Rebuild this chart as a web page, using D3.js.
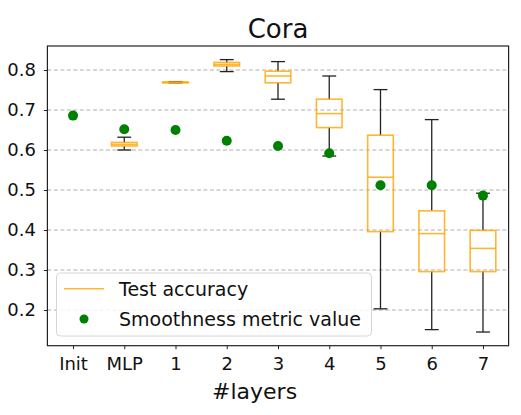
<!DOCTYPE html>
<html>
<head>
<meta charset="utf-8">
<script src="https://cdn.jsdelivr.net/npm/d3@7"></script>
<style>
  body { margin: 0; background: #fff; }
  svg { font-family: 'DejaVu Sans', sans-serif; }
</style>
</head>
<body>
<svg id="chart"></svg>
<script>
// Data
const categories = ['Init', 'MLP', '1', '2', '3', '4', '5', '6', '7']
const whiskerLow = [null, 0.600, 0.768, 0.796, 0.727, 0.585, 0.203, 0.151, 0.145]
const q1 = [null, 0.610, 0.768, 0.810, 0.768, 0.656, 0.396, 0.296, 0.296]
const median = [null, 0.614, 0.769, 0.814, 0.785, 0.691, 0.532, 0.391, 0.354]
const q3 = [null, 0.619, 0.770, 0.819, 0.797, 0.727, 0.637, 0.448, 0.399]
const whiskerHigh = [null, 0.632, 0.771, 0.826, 0.821, 0.785, 0.751, 0.676, 0.492]
const smoothness = [0.686, 0.652, 0.650, 0.623, 0.610, 0.592, 0.512, 0.512, 0.486]
const yTicks = [0.2, 0.3, 0.4, 0.5, 0.6, 0.7, 0.8]

const W = 521
const H = 415
const margin = { top: 46, right: 12.4, bottom: 69.3, left: 47.4 }
const width = W - margin.left - margin.right
const height = H - margin.top - margin.bottom

const orange = '#ffa500'
const green = '#008000'

const svg = d3.select('#chart')
  .attr('width', W)
  .attr('height', H)

const g = svg.append('g')
  .attr('transform', `translate(${margin.left}, ${margin.top})`)

// Scales: positions 1..9 like a boxplot, x range 0.5..9.5
const xScale = d3.scaleLinear()
  .domain([0.5, categories.length + 0.5])
  .range([0, width])
const pos = i => xScale(i + 1)
const unit = xScale(1) - xScale(0)

const yScale = d3.scaleLinear()
  .domain([0.1108, 0.86])
  .range([height, 0])

// Grid
g.append('g')
  .selectAll('line')
  .data(yTicks)
  .enter()
  .append('line')
  .attr('x1', 0)
  .attr('x2', width)
  .attr('y1', d => yScale(d))
  .attr('y2', d => yScale(d))
  .attr('stroke', '#b0b0b0')
  .attr('stroke-width', 1)
  .attr('stroke-dasharray', '4,2.5')

// Axes
const yAxis = d3.axisLeft(yScale)
  .tickValues(yTicks)
  .tickFormat(d3.format('.1f'))
  .tickSize(3.5)
  .tickPadding(8)
const xAxis = d3.axisBottom(xScale)
  .tickValues(categories.map((_, i) => i + 1))
  .tickFormat((_, i) => categories[i])
  .tickSize(3.5)
  .tickPadding(8)

const yG = g.append('g').call(yAxis)
const xG = g.append('g').attr('transform', `translate(0, ${height})`).call(xAxis)
;[yG, xG].forEach(a => {
  a.select('.domain').remove()
  a.selectAll('line').attr('stroke', '#222').attr('stroke-width', 1)
  a.selectAll('text').attr('fill', '#111').style('font-size', '18px')
    .style('font-family', "'DejaVu Sans', sans-serif")
})

// Boxes
const idx = d3.range(categories.length).filter(i => q1[i] !== null)
const boxW = unit * 0.5
const capW = unit * 0.27

const boxes = g.append('g')
// whiskers
boxes.selectAll('.whisker')
  .data(idx.flatMap(i => [[i, whiskerLow[i], q1[i]], [i, q3[i], whiskerHigh[i]]]))
  .enter()
  .append('line')
  .attr('x1', d => pos(d[0]))
  .attr('x2', d => pos(d[0]))
  .attr('y1', d => yScale(d[1]))
  .attr('y2', d => yScale(d[2]))
  .attr('stroke', '#222')
  .attr('stroke-width', 1.3)
// caps
boxes.selectAll('.cap')
  .data(idx.flatMap(i => [[i, whiskerLow[i]], [i, whiskerHigh[i]]]))
  .enter()
  .append('line')
  .attr('x1', d => pos(d[0]) - capW / 2)
  .attr('x2', d => pos(d[0]) + capW / 2)
  .attr('y1', d => yScale(d[1]))
  .attr('y2', d => yScale(d[1]))
  .attr('stroke', '#222')
  .attr('stroke-width', 1.3)
// box
boxes.selectAll('.box')
  .data(idx)
  .enter()
  .append('rect')
  .attr('x', i => pos(i) - boxW / 2)
  .attr('y', i => yScale(q3[i]))
  .attr('width', boxW)
  .attr('height', i => yScale(q1[i]) - yScale(q3[i]))
  .attr('fill', 'none')
  .attr('stroke', orange)
  .attr('stroke-opacity', 0.8)
  .attr('stroke-width', 1.6)
// median
boxes.selectAll('.median')
  .data(idx)
  .enter()
  .append('line')
  .attr('x1', i => pos(i) - boxW / 2)
  .attr('x2', i => pos(i) + boxW / 2)
  .attr('y1', i => yScale(median[i]))
  .attr('y2', i => yScale(median[i]))
  .attr('stroke', orange)
  .attr('stroke-opacity', 0.8)
  .attr('stroke-width', 1.6)

// Smoothness dots
g.append('g')
  .selectAll('circle')
  .data(smoothness)
  .enter()
  .append('circle')
  .attr('cx', (_, i) => pos(i))
  .attr('cy', d => yScale(d))
  .attr('r', 5)
  .attr('fill', green)

// Frame
g.append('rect')
  .attr('width', width)
  .attr('height', height)
  .attr('fill', 'none')
  .attr('stroke', '#222')
  .attr('stroke-width', 1.2)

// Legend
const leg = svg.append('g').attr('transform', 'translate(56.5, 273)')
leg.append('rect')
  .attr('width', 315)
  .attr('height', 63)
  .attr('rx', 4)
  .attr('fill', '#fff')
  .attr('fill-opacity', 0.8)
  .attr('stroke', '#d6d6d6')
  .attr('stroke-width', 1)
leg.append('line')
  .attr('x1', 7.5).attr('x2', 47.5)
  .attr('y1', 15.7).attr('y2', 15.7)
  .attr('stroke', orange)
  .attr('stroke-opacity', 0.8)
  .attr('stroke-width', 1.6)
leg.append('circle')
  .attr('cx', 27.5).attr('cy', 46)
  .attr('r', 4.5)
  .attr('fill', green)
leg.selectAll('text')
  .data(['Test accuracy', 'Smoothness metric value'])
  .enter()
  .append('text')
  .attr('x', 62.5)
  .attr('y', (_, i) => 23 + i * 30)
  .attr('fill', '#111')
  .style('font-size', '19px')
  .text(d => d)

// Title and axis label
svg.append('text')
  .attr('x', margin.left + width / 2)
  .attr('y', 38)
  .attr('text-anchor', 'middle')
  .attr('fill', '#111')
  .style('font-size', '26px')
  .text('Cora')
svg.append('text')
  .attr('x', 212)
  .attr('y', 399)
  .attr('fill', '#111')
  .style('font-size', '22px')
  .text('#layers')
</script>
</body>
</html>
